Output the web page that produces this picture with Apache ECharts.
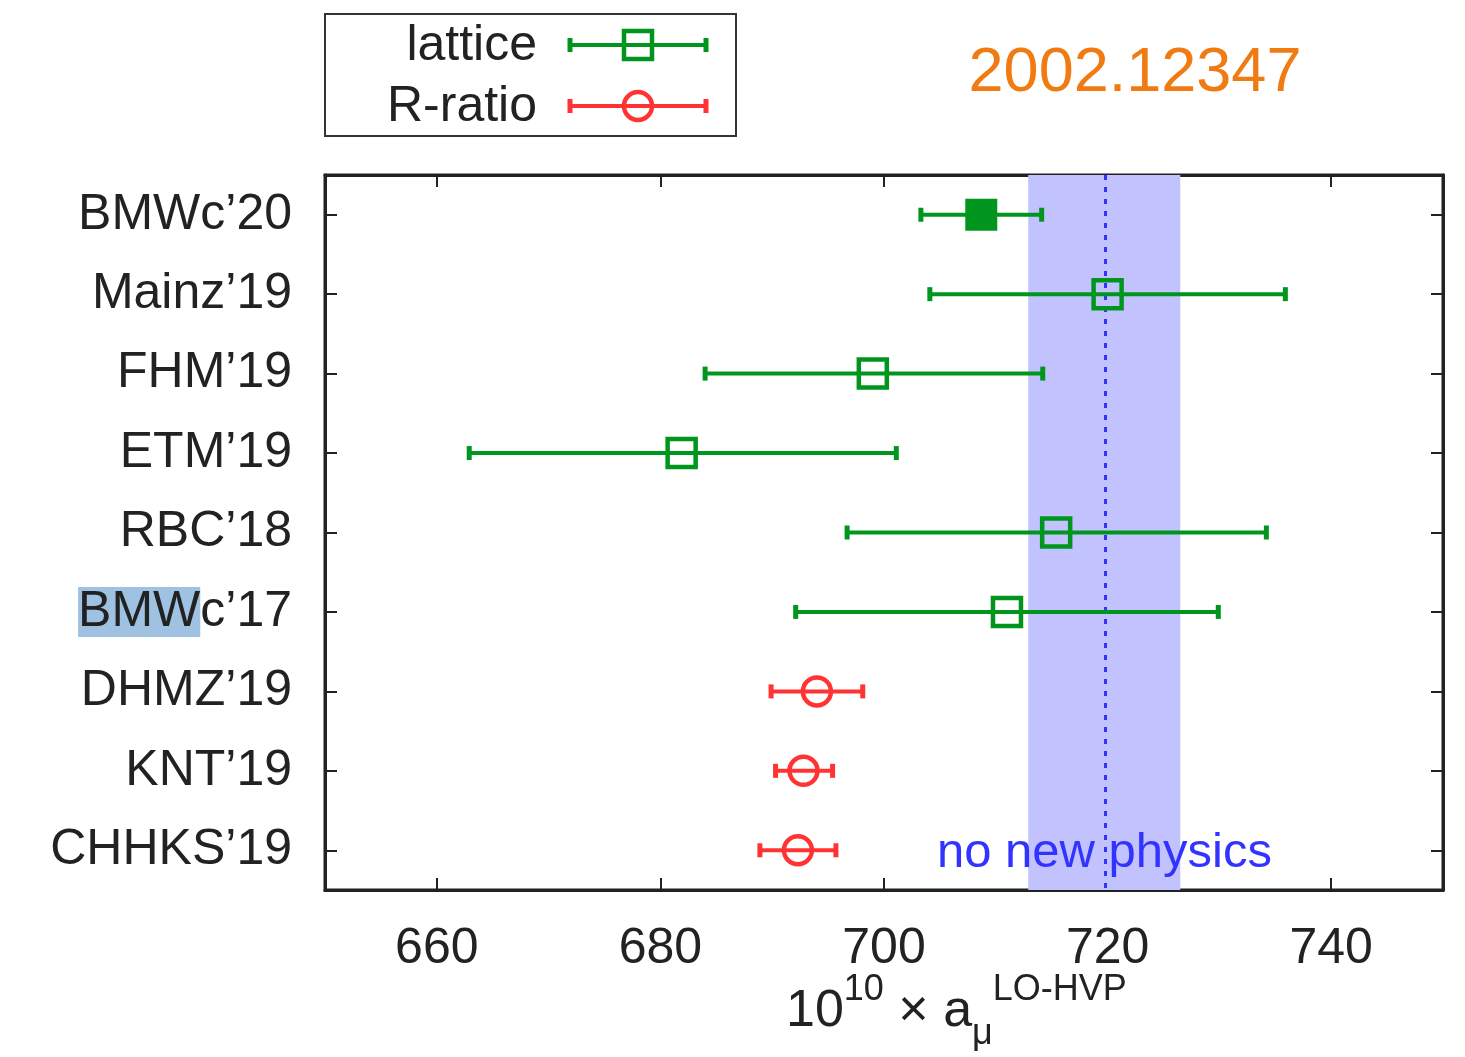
<!DOCTYPE html>
<html>
<head>
<meta charset="utf-8">
<title>a_mu LO-HVP</title>
<script src="https://cdn.jsdelivr.net/npm/echarts@6/dist/echarts.min.js"></script>
<style>
  html, body { margin: 0; padding: 0; background: #fff; }
  #main { width: 1465px; height: 1057px; }
</style>
</head>
<body>
<div id="main"></div>
<script>
// data
var labels = ['BMWc’20', 'Mainz’19', 'FHM’19', 'ETM’19', 'RBC’18', 'BMWc’17', 'DHMZ’19', 'KNT’19', 'CHHKS’19'];
var values = [708.7, 720.0, 699.0, 681.9, 715.4, 711.0, 694.0, 692.8, 692.3];
var errLo  = [703.3, 704.1, 684.0, 662.9, 696.7, 692.1, 689.9, 690.3, 688.9];
var errHi  = [714.1, 735.9, 714.2, 701.1, 734.2, 729.9, 698.1, 695.4, 695.7];
// 0 = lattice, 1 = R-ratio
var kind   = [0, 0, 0, 0, 0, 0, 1, 1, 1];
var filled = [1, 0, 0, 0, 0, 0, 0, 0, 0];
var xTicks = [660, 680, 700, 720, 740];
var band = [712.9, 726.5];
var bandLine = 719.8;

var GREEN = '#00961e', RED = '#ff3333', BLUE = '#3333ff', FONT = 'Liberation Sans';

function rows(k) {
    var out = [];
    for (var i = 0; i < labels.length; i++) {
        if (kind[i] === k) out.push([i, values[i], errLo[i], errHi[i], filled[i]]);
    }
    return out;
}

function errBar(color, circle) {
    return function (params, api) {
        var c = api.coord([api.value(1), api.value(0)]);
        var l = api.coord([api.value(2), api.value(0)]);
        var h = api.coord([api.value(3), api.value(0)]);
        var st = { stroke: color, lineWidth: 4.5, fill: null };
        var kids = [
            { type: 'line', shape: { x1: l[0], y1: c[1], x2: h[0], y2: c[1] }, style: { stroke: color, lineWidth: 4 } },
            { type: 'line', shape: { x1: l[0], y1: c[1] - 7, x2: l[0], y2: c[1] + 7 }, style: { stroke: color, lineWidth: 5 } },
            { type: 'line', shape: { x1: h[0], y1: c[1] - 7, x2: h[0], y2: c[1] + 7 }, style: { stroke: color, lineWidth: 5 } }
        ];
        if (circle) {
            kids.push({ type: 'circle', shape: { cx: c[0], cy: c[1], r: 14 }, style: st });
        } else if (api.value(4)) {
            kids.push({ type: 'rect', shape: { x: c[0] - 16, y: c[1] - 16, width: 32, height: 32 }, style: { fill: color } });
        } else {
            kids.push({ type: 'rect', shape: { x: c[0] - 14, y: c[1] - 14, width: 28, height: 28 }, style: st });
        }
        return { type: 'group', children: kids };
    };
}

var tickStyle = { show: true, inside: true, length: 12, lineStyle: { color: '#222', width: 2 } };
var lineStyle = { show: true, onZero: false, lineStyle: { color: '#222', width: 3 } };

var chart = echarts.init(document.getElementById('main'));
var option = {
    backgroundColor: '#fff',
    animation: false,
    grid: {
        left: 325, top: 175, width: 1118, height: 715,
        show: true, borderColor: '#222', borderWidth: 3, backgroundColor: 'transparent'
    },
    xAxis: [{
        type: 'value', min: 650, max: 750, position: 'bottom',
        axisLine: lineStyle, splitLine: { show: false },
        axisTick: Object.assign({ customValues: xTicks }, tickStyle),
        axisLabel: { customValues: xTicks, margin: 34, fontSize: 50, color: '#222', fontFamily: FONT }
    }, {
        type: 'value', min: 650, max: 750, position: 'top',
        axisLine: lineStyle, splitLine: { show: false },
        axisTick: Object.assign({ customValues: xTicks }, tickStyle),
        axisLabel: { show: false }
    }],
    yAxis: [{
        type: 'category', data: labels, inverse: true, position: 'left',
        axisLine: lineStyle,
        axisTick: Object.assign({ alignWithLabel: true }, tickStyle),
        axisLabel: {
            margin: 33, fontSize: 50, color: '#222', fontFamily: FONT,
            formatter: function (v) {
                return v === 'BMWc’17' ? '{hl|BMW}c’17' : v;
            },
            rich: { hl: { backgroundColor: '#9fc2e2', fontSize: 50, fontFamily: FONT, color: '#222', lineHeight: 42 } }
        }
    }, {
        type: 'category', data: labels, inverse: true, position: 'right',
        axisLine: lineStyle,
        axisTick: Object.assign({ alignWithLabel: true }, tickStyle),
        axisLabel: { show: false }
    }],
    series: [{
        type: 'scatter', data: [], silent: true,
        markArea: {
            silent: true,
            itemStyle: { color: '#c2c2ff' },
            data: [[{ xAxis: band[0] }, { xAxis: band[1] }]]
        },
        markLine: {
            silent: true, symbol: 'none', label: { show: false },
            lineStyle: { color: BLUE, type: [5, 7], width: 3 },
            data: [{ xAxis: bandLine }]
        }
    }, {
        name: 'lattice', type: 'custom', renderItem: errBar(GREEN, false),
        data: rows(0), encode: { x: 1, y: 0 }, z: 5
    }, {
        name: 'R-ratio', type: 'custom', renderItem: errBar(RED, true),
        data: rows(1), encode: { x: 1, y: 0 }, z: 5
    }],
    graphic: [
        // legend box
        { type: 'rect', shape: { x: 325, y: 14, width: 411, height: 122 }, style: { fill: '#fff', stroke: '#333', lineWidth: 2 } },
        { type: 'text', x: 537, y: 46, style: { text: 'lattice', fontSize: 50, fontFamily: FONT, fill: '#222', align: 'right', verticalAlign: 'middle' } },
        { type: 'text', x: 537, y: 107, style: { text: 'R-ratio', fontSize: 50, fontFamily: FONT, fill: '#222', align: 'right', verticalAlign: 'middle' } },
        { type: 'line', shape: { x1: 570, y1: 45, x2: 706, y2: 45 }, style: { stroke: GREEN, lineWidth: 4 } },
        { type: 'line', shape: { x1: 570, y1: 38, x2: 570, y2: 52 }, style: { stroke: GREEN, lineWidth: 5 } },
        { type: 'line', shape: { x1: 706, y1: 38, x2: 706, y2: 52 }, style: { stroke: GREEN, lineWidth: 5 } },
        { type: 'rect', shape: { x: 624, y: 31, width: 28, height: 28 }, style: { fill: null, stroke: GREEN, lineWidth: 4.5 } },
        { type: 'line', shape: { x1: 570, y1: 106, x2: 706, y2: 106 }, style: { stroke: RED, lineWidth: 4 } },
        { type: 'line', shape: { x1: 570, y1: 99, x2: 570, y2: 113 }, style: { stroke: RED, lineWidth: 5 } },
        { type: 'line', shape: { x1: 706, y1: 99, x2: 706, y2: 113 }, style: { stroke: RED, lineWidth: 5 } },
        { type: 'circle', shape: { cx: 638, cy: 106, r: 14 }, style: { fill: null, stroke: RED, lineWidth: 4.5 } },
        // arXiv number
        { type: 'text', x: 1135, y: 74, style: { text: '2002.12347', fontSize: 63, fontFamily: FONT, fill: '#f07b12', align: 'center', verticalAlign: 'middle' } },
        // annotation
        { type: 'text', x: 1272, y: 853, z: 10, style: { text: 'no new physics', fontSize: 49, fontFamily: FONT, fill: BLUE, align: 'right', verticalAlign: 'middle' } },
        // x axis title
        {
            type: 'text', x: 786, y: 972,
            style: {
                text: '{m|10}{sup|10}{m| × a}{sub|μ}{sup|LO-HVP}',
                fontFamily: FONT, fill: '#222',
                rich: {
                    m: { fontSize: 52, lineHeight: 80, fontFamily: FONT, fill: '#222', verticalAlign: 'middle' },
                    sup: { fontSize: 36, lineHeight: 36, fontFamily: FONT, fill: '#222', verticalAlign: 'top' },
                    sub: { fontSize: 36, lineHeight: 36, fontFamily: FONT, fill: '#222', verticalAlign: 'bottom' }
                }
            }
        }
    ]
};
chart.setOption(option);
</script>
</body>
</html>
